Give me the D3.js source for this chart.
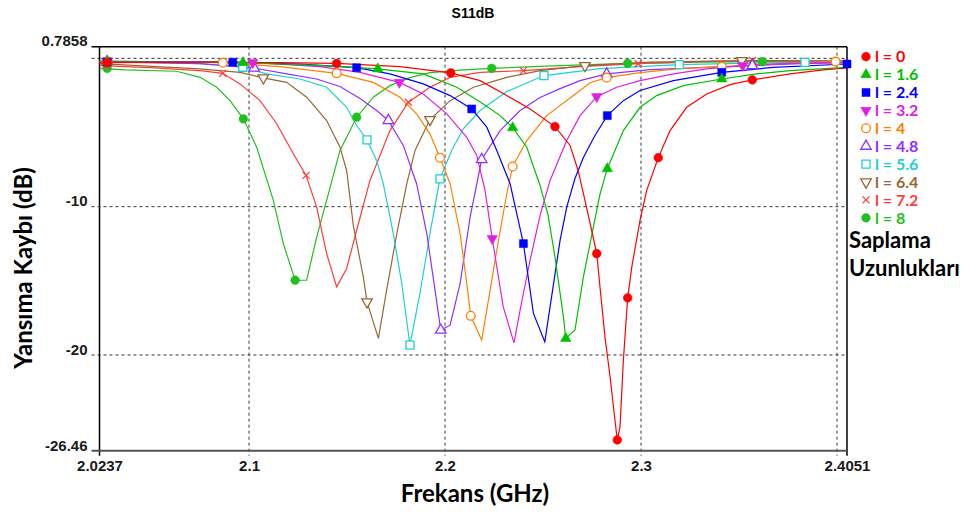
<!DOCTYPE html>
<html>
<head>
<meta charset="utf-8">
<script src="https://cdn.jsdelivr.net/npm/d3@7"></script>
<style>
  body { margin: 0; background: #fff; }
  svg { display: block; }
  .big { font-family: Lato, "Open Sans", sans-serif; font-weight: bold; fill: #000; }
</style>
</head>
<body>
<svg id="chart" width="963" height="513"></svg>
<script>
// axis values as printed on the chart
var freqTicks = [2.0237, 2.1, 2.2, 2.3, 2.4051];
var dbTicks = [0.7858, -10, -20, -26.46];
var gridFreqs = [2.1, 2.2, 2.3, 2.4];
var gridDb = [0, -10, -20];

// stub lengths (legend)
var lengths = ['0', '1.6', '2.4', '3.2', '4', '4.8', '5.6', '6.4', '7.2', '8'];

// S11 (dB) vs frequency (GHz), one array per stub length
var s0 = [[2.0237,-0.29],[2.0750,-0.26],[2.1158,-0.29],[2.1447,-0.34],[2.1770,-0.56],[2.2029,-0.98],[2.2179,-1.50],[2.2315,-2.51],[2.2434,-3.41],[2.2561,-4.60],[2.2638,-5.87],[2.2679,-7.56],[2.2714,-9.57],[2.2748,-11.59],[2.2774,-13.16],[2.2794,-15.85],[2.2816,-18.78],[2.2842,-21.47],[2.2867,-24.38],[2.2879,-25.73],[2.2893,-24.83],[2.2910,-20.34],[2.2932,-16.15],[2.2953,-14.06],[2.2995,-10.92],[2.3029,-8.90],[2.3088,-6.70],[2.3148,-4.87],[2.3233,-3.30],[2.3335,-2.40],[2.3454,-1.77],[2.3568,-1.45],[2.3760,-1.05],[2.3930,-0.78],[2.4051,-0.65]];
var s16 = [[2.0237,-0.22],[2.0969,-0.29],[2.1260,-0.42],[2.1464,-0.56],[2.1657,-0.71],[2.1889,-1.05],[2.2060,-1.95],[2.2196,-3.07],[2.2281,-3.86],[2.2345,-4.68],[2.2417,-5.99],[2.2485,-8.57],[2.2526,-10.59],[2.2561,-13.39],[2.2604,-17.43],[2.2616,-18.88],[2.2663,-18.32],[2.2706,-14.74],[2.2757,-11.37],[2.2791,-9.13],[2.2828,-7.44],[2.2910,-4.87],[2.2995,-3.30],[2.3080,-2.51],[2.3216,-1.84],[2.3412,-1.39],[2.3590,-1.05],[2.3760,-0.83],[2.4051,-0.61]];
var s24 = [[2.0237,-0.26],[2.0917,-0.26],[2.1260,-0.39],[2.1549,-0.63],[2.1719,-1.05],[2.1889,-1.72],[2.2026,-2.51],[2.2136,-3.41],[2.2213,-4.64],[2.2264,-6.21],[2.2332,-8.45],[2.2400,-12.49],[2.2451,-17.20],[2.2509,-19.11],[2.2536,-16.76],[2.2587,-12.27],[2.2621,-10.03],[2.2663,-8.10],[2.2706,-6.68],[2.2765,-5.20],[2.2828,-3.86],[2.2910,-2.85],[2.2995,-2.17],[2.3165,-1.50],[2.3412,-0.94],[2.3675,-0.61],[2.4051,-0.38]];
var s32 = [[2.0237,-0.19],[2.1019,-0.29],[2.1362,-0.56],[2.1566,-0.94],[2.1767,-1.62],[2.1889,-2.40],[2.2009,-3.74],[2.2111,-5.32],[2.2162,-6.55],[2.2204,-8.90],[2.2241,-12.15],[2.2297,-16.76],[2.2352,-19.18],[2.2383,-16.98],[2.2434,-13.61],[2.2485,-10.59],[2.2536,-8.23],[2.2621,-5.54],[2.2689,-3.86],[2.2774,-2.58],[2.2876,-1.95],[2.2995,-1.50],[2.3165,-1.05],[2.3335,-0.71],[2.3519,-0.49],[2.3760,-0.34],[2.4051,-0.27]];
var s40 = [[2.0237,-0.19],[2.0866,-0.29],[2.1158,-0.56],[2.1447,-1.01],[2.1634,-1.62],[2.1770,-2.62],[2.1855,-3.74],[2.1923,-5.09],[2.1974,-6.70],[2.2026,-8.45],[2.2077,-11.82],[2.2111,-15.18],[2.2131,-17.36],[2.2187,-19.00],[2.2213,-16.98],[2.2264,-12.94],[2.2315,-9.13],[2.2345,-7.29],[2.2417,-5.54],[2.2519,-3.86],[2.2655,-2.51],[2.2740,-1.64],[2.2825,-1.30],[2.2995,-0.96],[2.3199,-0.69],[2.3412,-0.56],[2.3709,-0.36],[2.3993,-0.22],[2.4051,-0.22]];
var s48 = [[2.0237,-0.22],[2.0750,-0.36],[2.1026,-0.65],[2.1192,-1.05],[2.1345,-1.39],[2.1464,-1.90],[2.1566,-2.71],[2.1651,-3.52],[2.1711,-4.19],[2.1787,-5.87],[2.1855,-8.45],[2.1907,-11.82],[2.1949,-15.63],[2.1978,-18.32],[2.2026,-17.99],[2.2077,-15.18],[2.2128,-10.70],[2.2187,-6.82],[2.2281,-4.87],[2.2383,-3.52],[2.2485,-2.64],[2.2587,-2.04],[2.2689,-1.50],[2.2825,-1.05],[2.3046,-0.76],[2.3301,-0.63],[2.3568,-0.49],[2.3811,-0.36],[2.4051,-0.29]];
var s56 = [[2.0237,-0.22],[2.0750,-0.36],[2.0968,-0.60],[2.1090,-1.05],[2.1260,-1.39],[2.1396,-1.95],[2.1498,-3.30],[2.1549,-4.53],[2.1602,-5.49],[2.1651,-6.88],[2.1685,-8.45],[2.1736,-11.82],[2.1779,-15.18],[2.1821,-19.33],[2.1872,-15.85],[2.1923,-11.82],[2.1974,-8.12],[2.2034,-6.21],[2.2094,-4.73],[2.2179,-3.52],[2.2315,-2.24],[2.2505,-1.16],[2.2791,-0.69],[2.3195,-0.42],[2.3556,-0.32],[2.3837,-0.27],[2.4051,-0.24]];
var s64 = [[2.0237,-0.36],[2.0750,-0.71],[2.0954,-0.94],[2.1073,-1.32],[2.1192,-1.62],[2.1294,-2.62],[2.1396,-4.19],[2.1464,-5.99],[2.1498,-7.56],[2.1532,-11.26],[2.1583,-14.74],[2.1602,-16.42],[2.1660,-18.88],[2.1702,-15.63],[2.1754,-11.82],[2.1805,-8.45],[2.1847,-6.21],[2.1923,-4.13],[2.2026,-2.85],[2.2145,-1.95],[2.2315,-1.28],[2.2485,-0.83],[2.2714,-0.49],[2.3046,-0.26],[2.3514,-0.15],[2.3811,-0.15],[2.4051,-0.19]];
var s72 = [[2.0237,-0.49],[2.0495,-0.63],[2.0750,-0.83],[2.0866,-1.01],[2.0954,-1.72],[2.1056,-2.85],[2.1141,-4.41],[2.1226,-6.43],[2.1291,-7.89],[2.1345,-10.03],[2.1396,-13.16],[2.1447,-15.41],[2.1498,-14.17],[2.1549,-11.59],[2.1617,-8.23],[2.1719,-4.87],[2.1813,-2.96],[2.1923,-1.95],[2.2026,-1.28],[2.2179,-0.94],[2.2400,-0.83],[2.2689,-0.56],[2.2986,-0.36],[2.3301,-0.22],[2.3569,-0.15],[2.4051,-0.22]];
var s80 = [[2.0237,-0.67],[2.0367,-0.78],[2.0631,-0.87],[2.0750,-1.28],[2.0835,-1.95],[2.0903,-2.85],[2.0971,-4.08],[2.1039,-5.99],[2.1124,-9.57],[2.1175,-12.49],[2.1235,-14.96],[2.1294,-14.96],[2.1345,-12.05],[2.1396,-9.57],[2.1464,-6.21],[2.1549,-3.97],[2.1634,-2.62],[2.1719,-1.84],[2.1821,-1.30],[2.1923,-0.96],[2.2077,-0.79],[2.2238,-0.67],[2.2587,-0.49],[2.2932,-0.34],[2.3301,-0.26],[2.3619,-0.22],[2.4051,-0.19]];

// marker positions along each trace
var m0 = [[2.0276,-0.29],[2.1447,-0.34],[2.2029,-0.98],[2.2561,-4.60],[2.2774,-13.16],[2.2879,-25.73],[2.2932,-16.15],[2.3088,-6.70],[2.3568,-1.45]];
var m16 = [[2.0276,-0.22],[2.0969,-0.29],[2.1657,-0.71],[2.2345,-4.68],[2.2616,-18.88],[2.2828,-7.44],[2.3412,-1.39]];
var m24 = [[2.0276,-0.26],[2.0917,-0.26],[2.1549,-0.63],[2.2136,-3.41],[2.2400,-12.49],[2.2828,-3.86],[2.3412,-0.94],[2.4051,-0.38]];
var m32 = [[2.0276,-0.19],[2.1019,-0.29],[2.1767,-1.62],[2.2241,-12.15],[2.2774,-2.58],[2.3519,-0.49]];
var m40 = [[2.0276,-0.19],[2.0866,-0.29],[2.1447,-1.01],[2.1974,-6.70],[2.2131,-17.36],[2.2345,-7.29],[2.2825,-1.30],[2.3412,-0.56],[2.3993,-0.22]];
var m48 = [[2.0276,-0.22],[2.1026,-0.65],[2.1711,-4.19],[2.1978,-18.32],[2.2187,-6.82],[2.2825,-1.05],[2.3568,-0.49]];
var m56 = [[2.0276,-0.22],[2.0968,-0.60],[2.1602,-5.49],[2.1821,-19.33],[2.1974,-8.12],[2.2505,-1.16],[2.3195,-0.42],[2.3837,-0.27]];
var m64 = [[2.0276,-0.20],[2.1073,-1.32],[2.1602,-16.42],[2.1923,-4.13],[2.2714,-0.49],[2.3514,-0.15]];
var m72 = [[2.0276,-0.49],[2.0866,-1.01],[2.1291,-7.89],[2.1813,-2.96],[2.2400,-0.83],[2.2986,-0.36],[2.3569,-0.15]];
var m80 = [[2.0276,-0.67],[2.0971,-4.08],[2.1235,-14.96],[2.1549,-3.97],[2.2238,-0.67],[2.2932,-0.34],[2.3619,-0.22]];

var traces = [s0, s16, s24, s32, s40, s48, s56, s64, s72, s80];
var markers = [m0, m16, m24, m32, m40, m48, m56, m64, m72, m80];

// styling per trace
var colors = ['#ff0000', '#00c000', '#0000ff', '#e020e0', '#ff8000', '#9030ff', '#20d0d0', '#996633', '#ff3c3c', '#20c020'];
var shapes = ['circle', 'triangle', 'square', 'triangleDown', 'circle', 'triangle', 'square', 'triangleDown', 'x', 'circle'];
var filled = [true, true, true, true, false, false, false, false, false, true];

var svg = d3.select('#chart');

var x = d3.scaleLinear().domain([2.0237, 2.4051]).range([99.5, 847]);
var y = d3.scaleLinear().domain([-26.46, 0.7858]).range([450.8, 46.7]);

var plotLeft = x.range()[0], plotRight = x.range()[1];
var plotTop = y.range()[1], plotBottom = y.range()[0];

function tickStyle(sel) {
  sel.style('font-family', '"Liberation Sans", Arial, sans-serif')
    .style('font-size', '15px')
    .style('font-weight', 'bold')
    .style('fill', '#1a1a1a');
}

// dashed grid
svg.append('g').selectAll('line')
  .data(gridFreqs)
  .enter().append('line')
  .attr('x1', x).attr('x2', x)
  .attr('y1', plotTop).attr('y2', plotBottom + 5)
  .attr('stroke', '#333').attr('stroke-dasharray', '3,3');

svg.append('g').selectAll('line')
  .data(gridDb)
  .enter().append('line')
  .attr('x1', plotLeft - 8).attr('x2', plotRight)
  .attr('y1', y).attr('y2', y)
  .attr('stroke', '#333').attr('stroke-dasharray', '3,3');

// frame
svg.append('line').attr('x1', plotLeft - 8).attr('x2', plotRight).attr('y1', plotTop).attr('y2', plotTop)
  .attr('stroke', '#000').attr('stroke-width', 1.5);
svg.append('line').attr('x1', plotLeft).attr('x2', plotLeft).attr('y1', plotTop).attr('y2', plotBottom + 5)
  .attr('stroke', '#000').attr('stroke-width', 1.5);
svg.append('line').attr('x1', plotRight).attr('x2', plotRight).attr('y1', plotTop).attr('y2', plotBottom + 5)
  .attr('stroke', '#000').attr('stroke-width', 1.5);
svg.append('line').attr('x1', plotLeft - 8).attr('x2', plotRight).attr('y1', plotBottom).attr('y2', plotBottom)
  .attr('stroke', '#555').attr('stroke-width', 2);

// axes (labels only, lines drawn above)
var xAxis = svg.append('g')
  .attr('transform', 'translate(0,' + plotBottom + ')')
  .call(d3.axisBottom(x).tickValues(freqTicks).tickFormat(String).tickSize(0).tickPadding(10));
xAxis.select('.domain').remove();
xAxis.selectAll('text').call(tickStyle);

var yAxis = svg.append('g')
  .attr('transform', 'translate(' + plotLeft + ',0)')
  .call(d3.axisLeft(y).tickValues(dbTicks).tickFormat(String).tickSize(0).tickPadding(12));
yAxis.select('.domain').remove();
yAxis.selectAll('text').call(tickStyle).attr('dy', '-0.05em');

// marker shapes
function markerPath(shape) {
  if (shape === 'x') return 'M-3.5,-3.5L3.5,3.5M-3.5,3.5L3.5,-3.5';
  if (shape === 'circle') return d3.symbol().type(d3.symbolCircle).size(60)();
  if (shape === 'square') return d3.symbol().type(d3.symbolSquare).size(64)();
  return d3.symbol().type(d3.symbolTriangle).size(48)();
}

function drawMarker(sel, i) {
  sel.append('path')
    .attr('d', markerPath(shapes[i]))
    .attr('transform', shapes[i] === 'triangleDown' ? 'rotate(180)' : null)
    .attr('fill', filled[i] ? colors[i] : (shapes[i] === 'x' ? 'none' : '#fff'))
    .attr('stroke', colors[i])
    .attr('stroke-width', filled[i] ? 0.5 : 1.3);
}

var line = d3.line()
  .x(function(d) { return x(d[0]); })
  .y(function(d) { return y(d[1]); });

// traces, l = 8 first so l = 0 ends on top
d3.range(traces.length - 1, -1, -1).forEach(function(i) {
  svg.append('path')
    .datum(traces[i])
    .attr('d', line)
    .attr('fill', 'none')
    .attr('stroke', colors[i])
    .attr('stroke-width', 1.2);
});

d3.range(markers.length - 1, -1, -1).forEach(function(i) {
  svg.append('g').selectAll('g')
    .data(markers[i])
    .enter().append('g')
    .attr('transform', function(d) { return 'translate(' + x(d[0]) + ',' + y(d[1]) + ')'; })
    .each(function() { drawMarker(d3.select(this), i); });
});

// legend
var legend = svg.append('g').selectAll('g')
  .data(lengths)
  .enter().append('g')
  .attr('transform', function(d, i) { return 'translate(866,' + (56.7 + i * 17.9) + ')'; });

legend.each(function(d, i) { drawMarker(d3.select(this), i); });

legend.append('text')
  .attr('class', 'big')
  .attr('x', 9)
  .attr('dy', '0.36em')
  .style('font-size', '16px')
  .style('fill', function(d, i) { return colors[i]; })
  .text(function(d) { return 'l = ' + d; });

svg.append('text').attr('class', 'big').attr('x', 849).attr('y', 248)
  .style('font-size', '22px').text('Saplama');
svg.append('text').attr('class', 'big').attr('x', 849).attr('y', 276)
  .style('font-size', '22px').text('Uzunlukları');

// titles
svg.append('text')
  .attr('x', 473).attr('y', 18)
  .attr('text-anchor', 'middle')
  .style('font-family', '"Liberation Sans", Arial, sans-serif')
  .style('font-size', '14px').style('font-weight', 'bold')
  .text('S11dB');

svg.append('text').attr('class', 'big')
  .attr('x', 475).attr('y', 502)
  .attr('text-anchor', 'middle')
  .style('font-size', '24px')
  .text('Frekans (GHz)');

svg.append('text').attr('class', 'big')
  .attr('transform', 'translate(32,268) rotate(-90)')
  .attr('text-anchor', 'middle')
  .style('font-size', '24px')
  .text('Yansıma Kaybı (dB)');
</script>
</body>
</html>
